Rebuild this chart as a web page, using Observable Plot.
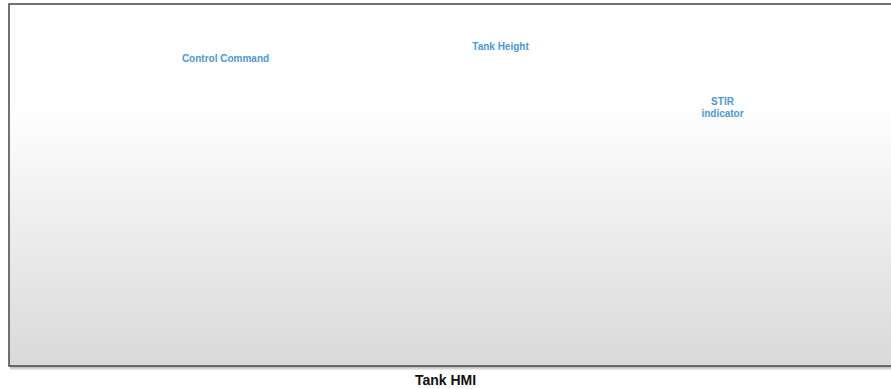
<!DOCTYPE html>
<html>
<head>
<meta charset="utf-8">
<script src="https://cdn.jsdelivr.net/npm/d3@7"></script>
<script src="https://cdn.jsdelivr.net/npm/@observablehq/plot@0.6"></script>
<style>
  body { margin: 0; background: #fff; font-family: "Liberation Sans", Arial, sans-serif; }
  #chart svg { display: block; }
  #caption { width: 891px; text-align: center; font-weight: bold; font-size: 14px; color: #111; line-height: 18px; }
</style>
</head>
<body>
<div id="chart"></div>
<div id="caption">Tank HMI</div>
<script>
// Panel (HMI canvas) extent in chart units
const panelX1 = [9];
const panelX2 = [900];
const panelY1 = [4];
const panelY2 = [366];

// Labels
const labelText = ["Control Command", "Tank Height", "STIR\nindicator"];
const labelX = [225, 500, 722];
const labelY = [58, 46, 107];

const panel = panelX1.map((d, i) => ({x1: d, x2: panelX2[i], y1: panelY1[i], y2: panelY2[i]}));
const labels = labelText.map((t, i) => ({text: t, x: labelX[i], y: labelY[i]}));

const chart = Plot.plot({
  width: 891,
  height: 371,
  margin: 0,
  x: {domain: [0, 891], axis: null},
  y: {domain: [371, 0], axis: null},
  marks: [
    // soft shadow
    Plot.rect(panel, {x1: d => d.x1 + 1, x2: "x2", y1: d => d.y1 + 2, y2: d => d.y2 + 4, fill: "#cfcfcf", fillOpacity: 0.5}),
    Plot.rect(panel, {x1: d => d.x1 + 1, x2: "x2", y1: d => d.y1 + 2, y2: d => d.y2 + 2.5, fill: "#aaaaaa", fillOpacity: 0.6}),
    Plot.rect(panel, {x1: "x1", x2: "x2", y1: "y1", y2: "y2", fill: "url(#panelGrad)", stroke: "#444", strokeWidth: 1.5}),
    Plot.text(labels, {x: "x", y: "y", text: "text", fill: "#4a9ad8", fontSize: 10, fontWeight: "bold", lineHeight: 1.15, fontFamily: "Liberation Sans, Arial, sans-serif"})
  ]
});

const svg = d3.select(chart);
const defs = svg.insert("defs", ":first-child");
const g = defs.append("linearGradient").attr("id", "panelGrad").attr("x1", 0).attr("y1", 0).attr("x2", 0).attr("y2", 1);
g.append("stop").attr("offset", "0").attr("stop-color", "#ffffff");
g.append("stop").attr("offset", "0.28").attr("stop-color", "#ffffff");
g.append("stop").attr("offset", "1").attr("stop-color", "#d9d9d9");

document.getElementById("chart").appendChild(chart);
</script>
</body>
</html>
